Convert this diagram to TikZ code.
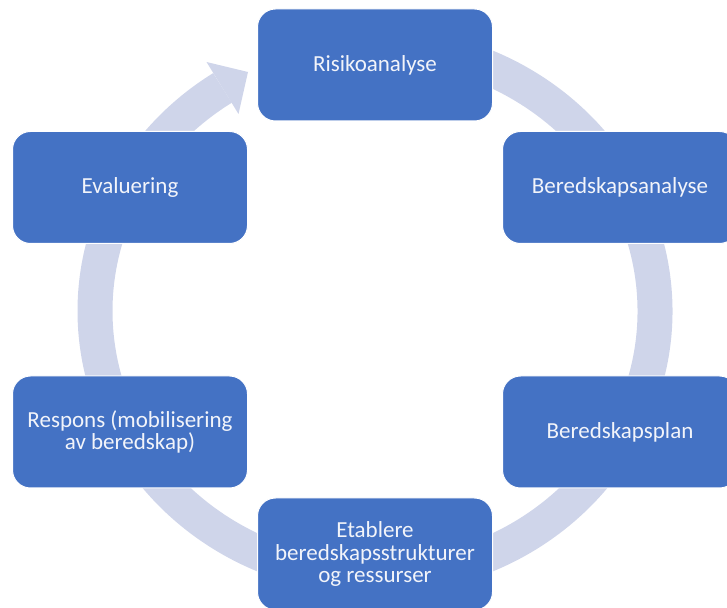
\documentclass[tikz,border=0pt]{standalone}
\usepackage{fontspec}
\setmainfont{Carlito}
\definecolor{boxblue}{HTML}{4472C4}
\definecolor{ringc}{HTML}{CFD5EA}
\definecolor{txtc}{HTML}{F2F4FA}
\newcommand\stagefont{\fontsize{23}{22.5}\selectfont\lineskiplimit=-20pt\relax}
\begin{document}
\begin{tikzpicture}[x=1pt,y=1pt,
  stage/.style={rectangle, rounded corners=18pt, fill=boxblue, draw=white, line width=1pt,
    minimum width=235pt, minimum height=112pt, text=txtc,
    font=\stagefont, align=center, inner sep=0pt},
  ring/.style={draw=ringc, line width=35pt}]
\useasboundingbox (0,0) rectangle (727,607);
% circular arrow
\draw[ring] (375,296) ++(95:280 and 266) arc[start angle=95, end angle=-237, x radius=280, y radius=266];
\coordinate (hl) at (206.5,545);
\coordinate (ht) at (248,535);
\coordinate (hr) at (238.5,493);
\fill[ringc] (hl) -- (ht) -- (hr) -- cycle;
% stages
\node[stage] (risk) at (375,542) {Risikoanalyse};
\node[stage] (bana) at (620,419.5) {Beredskapsanalyse};
\node[stage] (bplan) at (620,175) {Beredskapsplan};
\node[stage] (etab) at (375,53) {Etablere\\beredskapsstrukturer\\og ressurser};
\node[stage] (resp) at (130,175) {Respons (mobilisering\\av beredskap)};
\node[stage] (eval) at (130,419.5) {Evaluering};
\end{tikzpicture}
\end{document}
